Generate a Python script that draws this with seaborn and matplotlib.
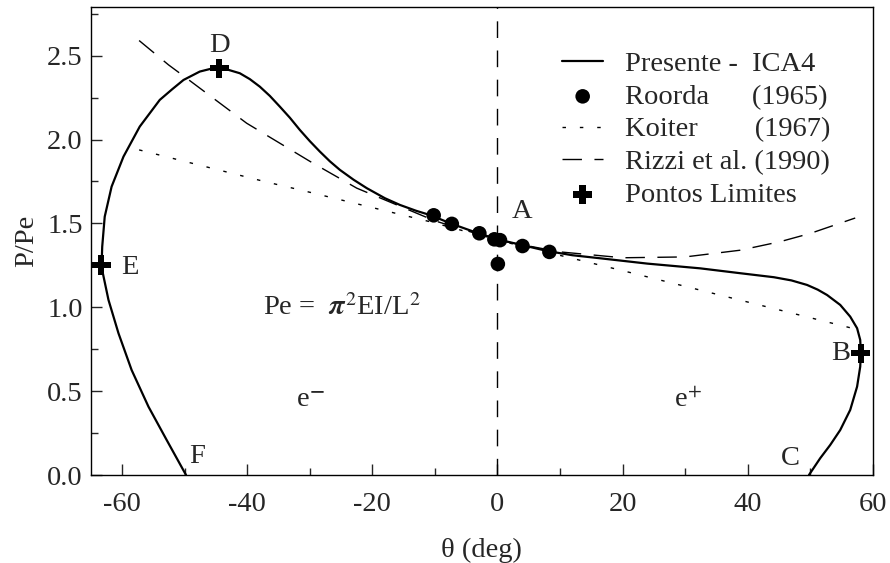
import numpy as np
import matplotlib
matplotlib.use("Agg")
import matplotlib.pyplot as plt
import seaborn as sns

# solid curve "Presente - ICA4" (F -> E -> D -> A -> B -> C)
theta_ica4 = [-49.8, -52.9, -55.8, -58.5, -60.6, -62.2, -63.1, -63.3, -63.2, -62.8,
              -61.7, -59.8, -57.2, -54.0, -52.0, -50.2, -47.6, -46.0, -44.5, -43.0,
              -41.2, -39.6, -38.0, -36.4, -34.8, -33.2, -31.6, -30.0, -28.4, -26.8,
              -25.2, -23.0, -20.9, -18.0, -15.6, -13.0, -10.8, -7.3, -3.0, 0.0,
              4.0, 8.0, 12.0, 16.4, 24.0, 32.4, 38.8, 44.2, 47.0, 49.5,
              51.2, 52.7, 54.8, 56.4, 57.5, 58.0, 58.1, 58.0, 57.5, 56.4,
              54.8, 53.2, 51.6, 49.8]
p_ica4 = [0.0, 0.209, 0.407, 0.626, 0.845, 1.044, 1.203, 1.252, 1.361, 1.540,
          1.719, 1.898, 2.077, 2.236, 2.30, 2.355, 2.405, 2.42, 2.425, 2.415,
          2.395, 2.36, 2.315, 2.26, 2.196, 2.13, 2.057, 1.99, 1.928, 1.87,
          1.819, 1.76, 1.71, 1.65, 1.61, 1.575, 1.55, 1.497, 1.44, 1.405,
          1.37, 1.335, 1.31, 1.292, 1.26, 1.232, 1.203, 1.179, 1.16, 1.133,
          1.105, 1.073, 1.014, 0.944, 0.875, 0.805, 0.726, 0.646, 0.527, 0.388,
          0.268, 0.179, 0.10, 0.0]

# Roorda (1965)
theta_roorda = [-10.2, -7.3, -2.9, -0.5, 0.4, 4.0, 8.3, 0.06]
p_roorda = [1.548, 1.497, 1.441, 1.405, 1.40, 1.365, 1.33, 1.258]

# Koiter (1967)
theta_koiter = [-57.3, -37.2, -31.6, -10.8, 0.0, 19.6, 56.7]
p_koiter = [1.938, 1.749, 1.70, 1.51, 1.40, 1.222, 0.875]

# Rizzi et al. (1990)
theta_rizzi = [-57.3, -52.6, -49.7, -40.1, -30.0, -22.5, -10.0, 0.0, 10.0, 20.0,
               30.0, 38.8, 45.2, 50.0, 57.2]
p_rizzi = [2.59, 2.445, 2.365, 2.097, 1.87, 1.71, 1.515, 1.40, 1.33, 1.295,
           1.30, 1.34, 1.391, 1.44, 1.532]

# limit points D, E, B
theta_lim = [-44.5, -63.4, 58.1]
p_lim = [2.425, 1.252, 0.726]

point_names = ["D", "E", "A", "B", "C", "F"]
point_theta = [-44.5, -58.8, 3.9, 54.8, 46.8, -48.0]
point_p = [2.56, 1.234, 1.568, 0.727, 0.10, 0.113]

sns.set_style("ticks")
plt.rcParams["font.family"] = ["Liberation Serif", "DejaVu Serif"]
plt.rcParams["mathtext.fontset"] = "stix"
plt.rcParams["axes.unicode_minus"] = False

fs = 20.5

fig = plt.figure(figsize=(8.9, 5.63), dpi=100)
ax = fig.add_axes([0.1022, 0.1563, 0.8784, 0.8313])

ax.axvline(0, color="black", lw=1.0, ls=(0, (12, 9)), zorder=1)

sns.lineplot(x=theta_ica4, y=p_ica4, sort=False, estimator=None, ax=ax,
             color="black", lw=1.6, label="Presente -  ICA4")
sns.scatterplot(x=theta_roorda, y=p_roorda, ax=ax, color="black", s=110,
                edgecolor="none", label="Roorda      (1965)", zorder=4)
sns.lineplot(x=theta_koiter, y=p_koiter, sort=False, estimator=None, ax=ax,
             color="black", lw=1.0, ls=(0, (2.5, 10)), label="Koiter        (1967)")
sns.lineplot(x=theta_rizzi, y=p_rizzi, sort=False, estimator=None, ax=ax,
             color="black", lw=1.0, ls=(0, (14, 9)), label="Rizzi et al. (1990)")
sns.scatterplot(x=theta_lim, y=p_lim, ax=ax, color="black", marker="P", s=190,
                edgecolor="none", label="Pontos Limites", zorder=5)

for name, t, p in zip(point_names, point_theta, point_p):
    ax.text(t, p, name, fontsize=fs, ha="center", va="center")

ax.text(-30.0, 0.445, r"e$^{\mathbf{-}}$", fontsize=fs, ha="center", va="center")
ax.text(30.5, 0.445, r"e$^{+}$", fontsize=fs, ha="center", va="center")
ax.text(-37.5, 1.0, r"Pe =  $\boldsymbol{\pi}^2$EI/L$^2$", fontsize=fs,
        ha="left", va="center")

ax.set_xlim(-65, 60)
ax.set_ylim(0, 2.79)
ax.set_xticks([-60, -40, -20, 0, 20, 40, 60])
ax.set_xticks([-50, -30, -10, 10, 30, 50], minor=True)
ax.set_yticks([0.0, 0.5, 1.0, 1.5, 2.0, 2.5])
ax.set_yticks([0.25, 0.75, 1.25, 1.75, 2.25, 2.75], minor=True)
ax.set_yticklabels(["0.0", "0.5", "1.0", "1.5", "2.0", "2.5"])
ax.tick_params(which="both", direction="in", labelsize=fs, top=False, right=False)
ax.tick_params(axis="x", which="both", pad=12)
ax.tick_params(axis="y", which="both", pad=6)
ax.tick_params(which="major", length=8, width=1.0)
ax.tick_params(which="minor", length=5, width=1.0)
for s in ax.spines.values():
    s.set_linewidth(1.0)
    s.set_color("black")

ax.set_xlabel("θ (deg)", fontsize=fs, labelpad=15)
ax.set_ylabel("P/Pe", fontsize=fs, labelpad=6)

ax.legend(loc="upper left", bbox_to_anchor=(0.588, 0.930), frameon=False,
          fontsize=fs, handlelength=1.45, handletextpad=0.75, labelspacing=0.24,
          borderaxespad=0.0, markerscale=1.0)

fig.savefig("out.png", dpi=100)
